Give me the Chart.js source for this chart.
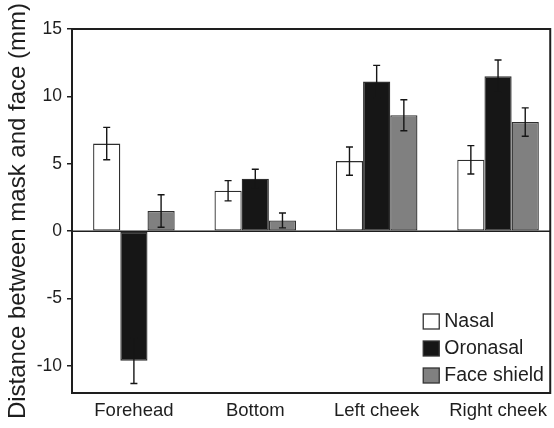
<!DOCTYPE html>
<html lang="en">
<head>
<meta charset="UTF-8">
<title>Distance between mask and face</title>
<script src="https://cdn.jsdelivr.net/npm/chart.js"></script>
<style>
    body { margin: 0; background: #fff; }
    .wrap { width: 554px; height: 428px; }
</style>
</head>
<body>
<div class="wrap"><canvas id="maskChart"></canvas></div>
<script>
const categories = ['Forehead', 'Bottom', 'Left cheek', 'Right cheek'];
const seriesNames = ['Nasal', 'Oronasal', 'Face shield'];
const nasal = [6.5, 3.0, 5.2, 5.3];
const oronasal = [-9.6, 3.9, 11.1, 11.5];
const faceShield = [1.5, 0.8, 8.6, 8.1];
const nasalErr = [1.2, 0.75, 1.05, 1.05];
const oronasalErr = [1.7, 0.7, 1.2, 1.2];
const faceShieldErr = [1.2, 0.55, 1.15, 1.05];
const yTicks = [-10, -5, 0, 5, 10, 15];

const FONT = '"Liberation Sans", Arial, sans-serif';
const INK = '#1e1e1e';

const toPoints = arr => arr.map((v, i) => ({x: i, y: v}));

// error bars, zero line, frame and legend
const extras = {
    id: 'extras',
    afterDatasetsDraw(chart) {
        const ctx = chart.ctx;
        const y = chart.scales.y;
        const area = chart.chartArea;
        ctx.save();
        ctx.strokeStyle = INK;
        ctx.lineWidth = 1.5;
        ctx.beginPath();
        ctx.moveTo(area.left, y.getPixelForValue(0));
        ctx.lineTo(area.right, y.getPixelForValue(0));
        ctx.stroke();

        chart.data.datasets.forEach((ds, di) => {
            const meta = chart.getDatasetMeta(di);
            meta.data.forEach((bar, i) => {
                const v = ds.data[i].y, e = ds.errors[i];
                const top = y.getPixelForValue(v + e);
                const bot = y.getPixelForValue(v - e);
                ctx.strokeStyle = '#161616';
                ctx.lineWidth = 1.4;
                ctx.beginPath();
                ctx.moveTo(bar.x, top); ctx.lineTo(bar.x, bot);
                ctx.moveTo(bar.x - 3.5, top); ctx.lineTo(bar.x + 3.5, top);
                ctx.moveTo(bar.x - 3.5, bot); ctx.lineTo(bar.x + 3.5, bot);
                ctx.stroke();
            });
        });
        ctx.restore();
    },
    afterDraw(chart) {
        const ctx = chart.ctx;
        const area = chart.chartArea;
        ctx.save();
        ctx.strokeStyle = INK;
        ctx.lineWidth = 2;
        ctx.strokeRect(area.left, area.top, area.right - area.left, area.bottom - area.top);

        // legend, bottom right inside the plot
        const x0 = area.right - 127;
        chart.data.datasets.forEach((ds, i) => {
            const ty = area.bottom - 79 + i * 27;
            ctx.fillStyle = ds.backgroundColor;
            ctx.fillRect(x0, ty, 16, 15);
            ctx.lineWidth = 1.3;
            ctx.strokeStyle = '#333';
            ctx.strokeRect(x0, ty, 16, 15);
            ctx.fillStyle = INK;
            ctx.font = '19.5px ' + FONT;
            ctx.textBaseline = 'middle';
            ctx.textAlign = 'left';
            ctx.fillText(ds.label, x0 + 21, ty + 8);
        });
        ctx.restore();
    }
};

new Chart('maskChart', {
    type: 'bar',
    data: {
        datasets: [{
            label: seriesNames[0],
            data: toPoints(nasal),
            errors: nasalErr,
            backgroundColor: '#ffffff'
        }, {
            label: seriesNames[1],
            data: toPoints(oronasal),
            errors: oronasalErr,
            backgroundColor: '#161616'
        }, {
            label: seriesNames[2],
            data: toPoints(faceShield),
            errors: faceShieldErr,
            backgroundColor: '#808080'
        }]
    },
    options: {
        responsive: true,
        maintainAspectRatio: false,
        animation: false,
        datasets: {
            bar: {
                borderColor: '#2e2e2e',
                borderWidth: 1.3,
                borderSkipped: false,
                barPercentage: 1,
                categoryPercentage: 0.672
            }
        },
        layout: { padding: { top: 29, right: 1, bottom: 0, left: 0 } },
        plugins: {
            legend: { display: false },
            tooltip: { enabled: false }
        },
        scales: {
            x: {
                type: 'linear',
                min: -0.51,
                max: 3.43,
                offset: false,
                grid: { display: false, drawTicks: false, offset: false },
                border: { display: false },
                ticks: {
                    stepSize: 1,
                    autoSkip: false,
                    includeBounds: false,
                    maxRotation: 0,
                    padding: 7,
                    color: INK,
                    font: { family: FONT, size: 18.5 },
                    callback: v => categories[v] ?? ''
                },
                afterFit: s => { s.height = 35; }
            },
            y: {
                min: -12,
                max: 15,
                grid: {
                    drawOnChartArea: false,
                    drawTicks: true,
                    tickLength: 5,
                    color: INK,
                    lineWidth: 1.5
                },
                border: { display: false },
                afterBuildTicks: s => { s.ticks = yTicks.map(v => ({value: v})); },
                ticks: {
                    padding: 5,
                    color: INK,
                    font: { family: FONT, size: 17.5 }
                },
                title: {
                    display: true,
                    text: 'Distance between mask and face (mm)',
                    color: INK,
                    padding: { top: 3.5, bottom: 0 },
                    font: { family: FONT, size: 24 }
                },
                afterFit: s => { s.width = 72; }
            }
        }
    },
    plugins: [extras]
});
</script>
</body>
</html>
